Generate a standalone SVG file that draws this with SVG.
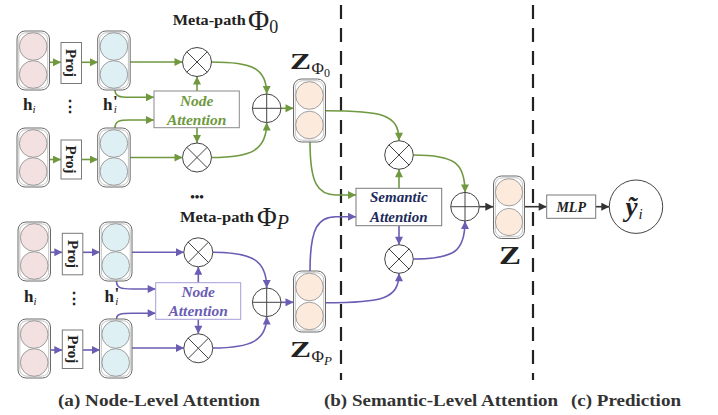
<svg xmlns="http://www.w3.org/2000/svg" width="718" height="415" viewBox="0 0 718 415">
<defs>
<style>
.stk-o{fill:#fff;stroke:#6a6a6a;stroke-width:1}
.stk-i{fill:none;stroke:#c4c4c4;stroke-width:1}
.pink circle{fill:#f3e0e1;stroke:#8a8a8a;stroke-width:0.8}
.blue circle{fill:#dff0f4;stroke:#8a8a8a;stroke-width:0.8}
.orng circle{fill:#fcebdd;stroke:#8a8a8a;stroke-width:0.8}
.box{fill:#fff;stroke:#7a7a7a;stroke-width:1}
.op{fill:#fff;stroke:#444;stroke-width:1}
.opl{stroke:#444;stroke-width:1}
.g{fill:none;stroke:#70993f;stroke-width:1.6}
.p{fill:none;stroke:#6a5db3;stroke-width:1.6}
.k{fill:none;stroke:#333;stroke-width:1.6}
.serif{font-family:"Liberation Serif","DejaVu Serif",serif}
.bold{font-weight:bold}
.ital{font-style:italic}
.dash{stroke:#222;stroke-width:2.2;stroke-dasharray:14 9}
.cap{font-family:"Liberation Serif","DejaVu Serif",serif;font-weight:bold;font-size:16.5px;fill:#333}
</style>
<marker id="ag" viewBox="0 0 10 10" refX="10" refY="5" markerWidth="9" markerHeight="8" markerUnits="userSpaceOnUse" orient="auto"><path d="M0,0 L10,5 L0,10 z" fill="#70993f"/></marker>
<marker id="ap" viewBox="0 0 10 10" refX="10" refY="5" markerWidth="9" markerHeight="8" markerUnits="userSpaceOnUse" orient="auto"><path d="M0,0 L10,5 L0,10 z" fill="#6a5db3"/></marker>
<marker id="ak" viewBox="0 0 10 10" refX="10" refY="5" markerWidth="9" markerHeight="8" markerUnits="userSpaceOnUse" orient="auto"><path d="M0,0 L10,5 L0,10 z" fill="#333"/></marker>
</defs>
<rect width="718" height="415" fill="#fff"/>

<!-- dashed separators -->
<line class="dash" x1="341" y1="5" x2="341" y2="380"/>
<line class="dash" x1="533" y1="5" x2="533" y2="380"/>

<!-- connectors -->
<g id="connectors">
  <line class="g" x1="49.5" y1="62.3" x2="61" y2="62.3" marker-end="url(#ag)"/>
  <line class="g" x1="81.5" y1="62.3" x2="98" y2="62.3" marker-end="url(#ag)"/>
  <line class="g" x1="49.5" y1="159.5" x2="61" y2="159.5" marker-end="url(#ag)"/>
  <line class="g" x1="81.5" y1="159.5" x2="98" y2="159.5" marker-end="url(#ag)"/>
  <line class="g" x1="130" y1="62" x2="182.5" y2="62" marker-end="url(#ag)"/>
  <line class="g" x1="130" y1="157.5" x2="182.5" y2="157.5" marker-end="url(#ag)"/>
  <path class="g" d="M115,90 C115,96 119,97.3 130,97.3 L154,97.3" marker-end="url(#ag)"/>
  <path class="g" d="M115,128 C115,121 119,120 130,120 L154,120" marker-end="url(#ag)"/>
  <line class="g" x1="197" y1="91" x2="197" y2="76.5" marker-end="url(#ag)"/>
  <line class="g" x1="197" y1="127.7" x2="197" y2="143" marker-end="url(#ag)"/>
  <path class="g" d="M211.5,62 C252,62 266.7,68 266.7,94" marker-end="url(#ag)"/>
  <path class="g" d="M211.5,157.5 C252,157.5 266.7,150 266.7,122.6" marker-end="url(#ag)"/>
  <line class="g" x1="281" y1="108.3" x2="293.5" y2="108.3" marker-end="url(#ag)"/>
  <line class="p" x1="50.5" y1="252.3" x2="62.3" y2="252.3" marker-end="url(#ap)"/>
  <line class="p" x1="82.8" y1="252.3" x2="100" y2="252.3" marker-end="url(#ap)"/>
  <line class="p" x1="50.5" y1="350" x2="62.3" y2="350" marker-end="url(#ap)"/>
  <line class="p" x1="82.8" y1="350" x2="100" y2="350" marker-end="url(#ap)"/>
  <line class="p" x1="131.7" y1="252.3" x2="184" y2="252.3" marker-end="url(#ap)"/>
  <line class="p" x1="131.7" y1="348" x2="184" y2="348" marker-end="url(#ap)"/>
  <path class="p" d="M116.5,281 C116.5,288 121,289 132,289 L155.7,289" marker-end="url(#ap)"/>
  <path class="p" d="M116.5,319 C116.5,314 121,313.3 132,313.3 L155.7,313.3" marker-end="url(#ap)"/>
  <line class="p" x1="198.3" y1="282.7" x2="198.3" y2="266.8" marker-end="url(#ap)"/>
  <line class="p" x1="198.3" y1="319.3" x2="198.3" y2="333.8" marker-end="url(#ap)"/>
  <path class="p" d="M212.7,252.3 C252,252.3 266.7,260 266.7,288" marker-end="url(#ap)"/>
  <path class="p" d="M212.7,348 C252,348 266.7,340 266.7,316.6" marker-end="url(#ap)"/>
  <line class="p" x1="281" y1="302.3" x2="293.5" y2="302.3" marker-end="url(#ap)"/>
  <path class="g" d="M325,110.7 C382,110.7 399,114 399,140.7" marker-end="url(#ag)"/>
  <path class="g" d="M310,141.7 C310,184 318,195 336,195 L356,195" marker-end="url(#ag)"/>
  <line class="g" x1="399" y1="188.3" x2="399" y2="169.3" marker-end="url(#ag)"/>
  <path class="g" d="M413.3,155 C455,155 465,163 465,192.4" marker-end="url(#ag)"/>
  <path class="p" d="M310,271 C310,228 318,216.7 336,216.7 L356,216.7" marker-end="url(#ap)"/>
  <path class="p" d="M325,302.7 C382,302.7 399,299 399,273.3" marker-end="url(#ap)"/>
  <line class="p" x1="399" y1="225.7" x2="399" y2="244.7" marker-end="url(#ap)"/>
  <path class="p" d="M413.3,259 C455,259 465,251 465,221" marker-end="url(#ap)"/>
  <line class="k" x1="479.3" y1="206.7" x2="493.3" y2="206.7" marker-end="url(#ak)"/>
  <line class="k" x1="524.5" y1="206.7" x2="546.7" y2="206.7" marker-end="url(#ak)"/>
  <line class="k" x1="595.7" y1="206.7" x2="609.3" y2="206.7" marker-end="url(#ak)"/>
</g>

<!-- stacks -->
<g id="h-top1" class="pink" transform="translate(17,31)"><rect class="stk-o" x="0" y="0" width="32.5" height="59" rx="8"/><rect class="stk-i" x="1.8" y="1.8" width="28.9" height="55.4" rx="7"/><circle cx="16.2" cy="15.5" r="13.8"/><circle cx="16.2" cy="43.5" r="13.8"/></g>
<g id="hp-top1" class="blue" transform="translate(97.7,31)"><rect class="stk-o" x="0" y="0" width="32.5" height="59" rx="8"/><rect class="stk-i" x="1.8" y="1.8" width="28.9" height="55.4" rx="7"/><circle cx="16.2" cy="15.5" r="13.8"/><circle cx="16.2" cy="43.5" r="13.8"/></g>
<g id="h-top2" class="pink" transform="translate(17,128)"><rect class="stk-o" x="0" y="0" width="32.5" height="59" rx="8"/><rect class="stk-i" x="1.8" y="1.8" width="28.9" height="55.4" rx="7"/><circle cx="16.2" cy="15.5" r="13.8"/><circle cx="16.2" cy="43.5" r="13.8"/></g>
<g id="hp-top2" class="blue" transform="translate(97.7,128)"><rect class="stk-o" x="0" y="0" width="32.5" height="59" rx="8"/><rect class="stk-i" x="1.8" y="1.8" width="28.9" height="55.4" rx="7"/><circle cx="16.2" cy="15.5" r="13.8"/><circle cx="16.2" cy="43.5" r="13.8"/></g>
<g id="h-bot1" class="pink" transform="translate(18,222)"><rect class="stk-o" x="0" y="0" width="32.5" height="59" rx="8"/><rect class="stk-i" x="1.8" y="1.8" width="28.9" height="55.4" rx="7"/><circle cx="16.2" cy="15.5" r="13.8"/><circle cx="16.2" cy="43.5" r="13.8"/></g>
<g id="hp-bot1" class="blue" transform="translate(99.5,222)"><rect class="stk-o" x="0" y="0" width="32.5" height="59" rx="8"/><rect class="stk-i" x="1.8" y="1.8" width="28.9" height="55.4" rx="7"/><circle cx="16.2" cy="15.5" r="13.8"/><circle cx="16.2" cy="43.5" r="13.8"/></g>
<g id="h-bot2" class="pink" transform="translate(18,319)"><rect class="stk-o" x="0" y="0" width="32.5" height="59" rx="8"/><rect class="stk-i" x="1.8" y="1.8" width="28.9" height="55.4" rx="7"/><circle cx="16.2" cy="15.5" r="13.8"/><circle cx="16.2" cy="43.5" r="13.8"/></g>
<g id="hp-bot2" class="blue" transform="translate(99.5,319)"><rect class="stk-o" x="0" y="0" width="32.5" height="59" rx="8"/><rect class="stk-i" x="1.8" y="1.8" width="28.9" height="55.4" rx="7"/><circle cx="16.2" cy="15.5" r="13.8"/><circle cx="16.2" cy="43.5" r="13.8"/></g>
<g id="z-phi0" class="orng" transform="translate(293.5,79)"><rect class="stk-o" x="0" y="0" width="32" height="63" rx="8"/><rect class="stk-i" x="1.8" y="1.8" width="28.4" height="59.4" rx="7"/><circle cx="16" cy="16.5" r="13.8"/><circle cx="16" cy="46" r="13.8"/></g>
<g id="z-phiP" class="orng" transform="translate(293.5,271)"><rect class="stk-o" x="0" y="0" width="32" height="61" rx="8"/><rect class="stk-i" x="1.8" y="1.8" width="28.4" height="57.4" rx="7"/><circle cx="16" cy="16" r="13.8"/><circle cx="16" cy="45" r="13.8"/></g>
<g id="z" class="orng" transform="translate(493.5,176)"><rect class="stk-o" x="0" y="0" width="31" height="62.5" rx="8"/><rect class="stk-i" x="1.8" y="1.8" width="27.4" height="58.9" rx="7"/><circle cx="15.5" cy="16.3" r="13.6"/><circle cx="15.5" cy="46" r="13.6"/></g>

<!-- proj boxes -->
<g id="proj-top1"><rect class="box" x="61" y="42.5" width="20.5" height="41"/><text class="serif bold" font-size="15" transform="translate(71.3,63) rotate(90)" text-anchor="middle" dominant-baseline="central" fill="#222">Proj</text></g>
<g id="proj-top2"><rect class="box" x="61" y="140" width="20.5" height="39"/><text class="serif bold" font-size="15" transform="translate(71.3,159.5) rotate(90)" text-anchor="middle" dominant-baseline="central" fill="#222">Proj</text></g>
<g id="proj-bot1"><rect class="box" x="62.3" y="233.3" width="20.5" height="41.5"/><text class="serif bold" font-size="15" transform="translate(72.6,254) rotate(90)" text-anchor="middle" dominant-baseline="central" fill="#222">Proj</text></g>
<g id="proj-bot2"><rect class="box" x="62.3" y="330" width="20.5" height="38.5"/><text class="serif bold" font-size="15" transform="translate(72.6,349.3) rotate(90)" text-anchor="middle" dominant-baseline="central" fill="#222">Proj</text></g>

<!-- attention boxes -->
<g id="node-att-0"><rect x="154" y="91" width="85.3" height="36.7" fill="#fff" stroke="#8a8a8a" stroke-width="1"/><text class="serif bold ital" font-size="15.5" fill="#70993f" text-anchor="middle" x="196.7" y="105.5">Node</text><text class="serif bold ital" font-size="15.5" fill="#70993f" text-anchor="middle" x="196.7" y="124.5">Attention</text></g>
<g id="node-att-P"><rect x="155.7" y="282.7" width="85" height="36.6" fill="#fff" stroke="#a79ed8" stroke-width="1"/><text class="serif bold ital" font-size="15.5" fill="#6a5db3" text-anchor="middle" x="198.2" y="297">Node</text><text class="serif bold ital" font-size="15.5" fill="#6a5db3" text-anchor="middle" x="198.2" y="316">Attention</text></g>
<g id="sem-att"><rect x="356" y="188.3" width="85.7" height="37.4" fill="#fff" stroke="#7a7a7a" stroke-width="1"/><text class="serif bold ital" font-size="15" fill="#1c2a5c" text-anchor="middle" x="398.8" y="202">Semantic</text><text class="serif bold ital" font-size="15" fill="#1c2a5c" text-anchor="middle" x="398.8" y="221.5">Attention</text></g>
<g id="mlp"><rect x="546.7" y="195" width="49" height="23.3" fill="#fff" stroke="#7a7a7a" stroke-width="1"/><text class="serif bold ital" font-size="14" fill="#222" text-anchor="middle" x="571.2" y="211.5">MLP</text></g>

<!-- operators -->
<g id="mul-0a"><circle class="op" cx="197" cy="62" r="14.5"/><path class="opl" d="M186.7,51.7 L207.3,72.3 M207.3,51.7 L186.7,72.3"/></g>
<g id="mul-0b"><circle class="op" cx="197" cy="157.5" r="14.5"/><path class="opl" d="M186.7,147.2 L207.3,167.8 M207.3,147.2 L186.7,167.8"/></g>
<g id="add-0"><circle class="op" cx="266.7" cy="108.3" r="14.3"/><path class="opl" d="M252.4,108.3 H281 M266.7,94 V122.6"/></g>
<g id="mul-Pa"><circle class="op" cx="198.3" cy="252.3" r="14.5"/><path class="opl" d="M188,242 L208.6,262.6 M208.6,242 L188,262.6"/></g>
<g id="mul-Pb"><circle class="op" cx="198.3" cy="348.3" r="14.5"/><path class="opl" d="M188,338 L208.6,358.6 M208.6,338 L188,358.6"/></g>
<g id="add-P"><circle class="op" cx="266.7" cy="302.3" r="14.3"/><path class="opl" d="M252.4,302.3 H281 M266.7,288 V316.6"/></g>
<g id="mul-s0"><circle class="op" cx="399" cy="155" r="14.3"/><path class="opl" d="M388.9,144.9 L409.1,165.1 M409.1,144.9 L388.9,165.1"/></g>
<g id="mul-sP"><circle class="op" cx="399" cy="259" r="14.3"/><path class="opl" d="M388.9,248.9 L409.1,269.1 M409.1,248.9 L388.9,269.1"/></g>
<g id="add-s"><circle class="op" cx="465" cy="206.7" r="14.3"/><path class="opl" d="M450.7,206.7 H479.3 M465,192.4 V221"/></g>
<g id="pred"><circle class="op" cx="636" cy="206.7" r="26.7"/><text class="serif bold ital" font-size="27" fill="#222" x="625.5" y="216">ỹ<tspan font-weight="normal" font-size="15" dx="1" dy="3">i</tspan></text></g>

<!-- labels -->
<g id="labels" fill="#222">
  <text class="serif bold" font-size="15.5" x="172.7" y="25" textLength="73" lengthAdjust="spacingAndGlyphs">Meta-path</text>
  <text class="serif" font-size="29" x="248" y="30">Φ<tspan font-size="18" dy="3">0</tspan></text>
  <text class="serif bold" font-size="15.5" x="180" y="221.5" textLength="74" lengthAdjust="spacingAndGlyphs">Meta-path</text>
  <text class="serif" font-size="27" x="257" y="226">Φ<tspan class="ital" font-size="20" dy="3">P</tspan></text>
  <text class="serif bold" font-size="24" x="290" y="69" textLength="21" lengthAdjust="spacingAndGlyphs">Z</text>
  <text class="serif" font-size="17" x="311.5" y="74">Φ<tspan font-size="12" dy="3">0</tspan></text>
  <text class="serif bold" font-size="24" x="290" y="357" textLength="21" lengthAdjust="spacingAndGlyphs">Z</text>
  <text class="serif" font-size="17" x="311.5" y="362">Φ<tspan class="ital" font-size="13" dy="3">P</tspan></text>
  <text class="serif bold" font-size="26" x="510" y="264" text-anchor="middle" textLength="22" lengthAdjust="spacingAndGlyphs">Z</text>
  <text class="serif bold" font-size="17" x="23" y="110">h<tspan font-weight="normal" font-style="italic" font-size="11" dy="3">i</tspan></text>
  <text class="serif bold" font-size="17" x="103" y="110">h<tspan font-size="17" dx="0.5" dy="-3">'</tspan><tspan font-weight="normal" font-style="italic" font-size="11" dx="-4" dy="6">i</tspan></text>
  <text class="serif bold" font-size="16" x="70" y="112" text-anchor="middle">⋮</text>
  <text class="serif bold" font-size="17" x="24" y="301.5">h<tspan font-weight="normal" font-style="italic" font-size="11" dy="3">i</tspan></text>
  <text class="serif bold" font-size="17" x="104.5" y="301.5">h<tspan font-size="17" dx="0.5" dy="-3">'</tspan><tspan font-weight="normal" font-style="italic" font-size="11" dx="-4" dy="6">i</tspan></text>
  <text class="serif bold" font-size="16" x="74" y="304" text-anchor="middle">⋮</text>
  <text class="serif bold" font-size="13" x="197" y="201" text-anchor="middle">•••</text>
  <text class="cap" x="58" y="406" textLength="202" lengthAdjust="spacingAndGlyphs">(a) Node-Level Attention</text>
  <text class="cap" x="324" y="406" textLength="234" lengthAdjust="spacingAndGlyphs">(b) Semantic-Level Attention</text>
  <text class="cap" x="571" y="406" textLength="110" lengthAdjust="spacingAndGlyphs">(c) Prediction</text>
</g>
</svg>
